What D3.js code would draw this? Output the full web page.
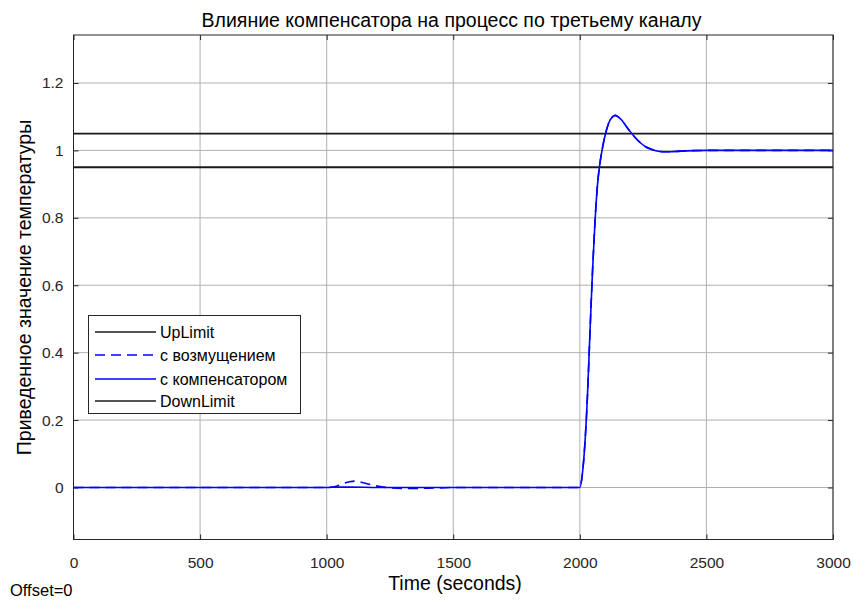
<!DOCTYPE html>
<html>
<head>
<meta charset="utf-8">
<script src="https://cdn.jsdelivr.net/npm/d3@7"></script>
<style>
  html, body { margin: 0; padding: 0; background: #ffffff; }
  svg { display: block; font-family: "Liberation Sans", Arial, Helvetica, sans-serif; }
</style>
</head>
<body>
<svg id="chart" width="853" height="601"></svg>
<script>
// Step response of the third channel, with and without the compensator
const xTicks = [0, 500, 1000, 1500, 2000, 2500, 3000];
const yTicks = [0, 0.2, 0.4, 0.6, 0.8, 1, 1.2];
const yTickLabels = ["0", "0.2", "0.4", "0.6", "0.8", "1", "1.2"];

const upLimit = 1.05;
const downLimit = 0.95;

// "с компенсатором" — response with compensator
const compT = [0, 1000, 1040, 1100, 1200, 2000, 2010, 2020, 2030, 2040, 2050, 2060, 2070, 2080, 2090, 2100,
  2115, 2130, 2140, 2150, 2165, 2180, 2200, 2220, 2240, 2260, 2280, 2300, 2330, 2360, 2400, 2500, 2600, 3000];
const compV = [0, 0, 0.001, 0.001, 0, 0, 0.04, 0.13, 0.27, 0.46, 0.64, 0.79, 0.9, 0.965, 1.01, 1.045,
  1.083, 1.1, 1.104, 1.1, 1.09, 1.075, 1.055, 1.037, 1.022, 1.011, 1.004, 0.999, 0.996, 0.996, 0.998, 1.0, 1.0, 1.0];

// "с возмущением" — response with disturbance, no compensator
const distT = [0, 1000, 1030, 1060, 1090, 1110, 1130, 1160, 1200, 1250, 1300, 1350, 1400, 1450, 1500, 2000,
  2010, 2020, 2030, 2040, 2050, 2060, 2070, 2080, 2090, 2100, 2115, 2130, 2140, 2150, 2165, 2180, 2200,
  2220, 2240, 2260, 2280, 2300, 2330, 2360, 2400, 2500, 2600, 3000];
const distV = [0, 0, 0.002, 0.01, 0.017, 0.019, 0.017, 0.011, 0.004, -0.001, -0.003, -0.003, -0.002, -0.001, 0, 0,
  0.04, 0.13, 0.27, 0.46, 0.64, 0.79, 0.9, 0.965, 1.01, 1.045, 1.083, 1.1, 1.104, 1.1, 1.09, 1.075, 1.055,
  1.037, 1.022, 1.011, 1.004, 0.999, 0.996, 0.996, 0.998, 1.0, 1.0, 1.0];

const legendLabels = ["UpLimit", "с возмущением", "с компенсатором", "DownLimit"];

const svg = d3.select("#chart");
const m = { left: 73.5, right: 833, top: 35, bottom: 539.5 };

const x = d3.scaleLinear().domain([0, 3000]).range([m.left, m.right]);
const y = d3.scaleLinear().domain([-0.1543, 1.3424]).range([m.bottom, m.top]);

const axisColor = "#262626";
const gridColor = "#b0b0b0";
const fontStack = "'Liberation Sans', Arial, sans-serif";

// grid
const grid = svg.append("g");
grid.selectAll("line.gx").data(xTicks).enter().append("line")
  .attr("x1", d => x(d)).attr("x2", d => x(d))
  .attr("y1", m.top).attr("y2", m.bottom)
  .attr("stroke", gridColor).attr("stroke-width", 1);
grid.selectAll("line.gy").data(yTicks).enter().append("line")
  .attr("x1", m.left).attr("x2", m.right)
  .attr("y1", d => y(d)).attr("y2", d => y(d))
  .attr("stroke", gridColor).attr("stroke-width", 1);

// axes with inward ticks on all four sides
const xAxis = d3.axisBottom(x).tickValues(xTicks).tickSize(-5).tickPadding(17).tickFormat(d3.format("d"));
const yAxis = d3.axisLeft(y).tickValues(yTicks).tickSize(-5).tickPadding(10).tickFormat((d, i) => yTickLabels[i]);
const xTop = d3.axisTop(x).tickValues(xTicks).tickSize(-5).tickFormat("");
const yRight = d3.axisRight(y).tickValues(yTicks).tickSize(-5).tickFormat("");

const gx = svg.append("g").attr("transform", `translate(0,${m.bottom})`).call(xAxis);
const gy = svg.append("g").attr("transform", `translate(${m.left},0)`).call(yAxis);
const gxt = svg.append("g").attr("transform", `translate(0,${m.top})`).call(xTop);
const gyr = svg.append("g").attr("transform", `translate(${m.right},0)`).call(yRight);
[gx, gy, gxt, gyr].forEach(g => {
  g.select(".domain").remove();
  g.selectAll(".tick line").attr("stroke", axisColor);
  g.selectAll(".tick text").attr("fill", axisColor).attr("font-size", 15.5)
    .attr("font-family", fontStack);
});

// box
svg.append("rect")
  .attr("x", m.left).attr("y", m.top)
  .attr("width", m.right - m.left).attr("height", m.bottom - m.top)
  .attr("fill", "none").attr("stroke", axisColor).attr("stroke-width", 1);

// series
const plot = svg.append("g");
const line = d3.line().x(d => x(d[0])).y(d => y(d[1])).curve(d3.curveMonotoneX);

plot.append("line")
  .attr("x1", x(0)).attr("x2", x(3000)).attr("y1", y(upLimit)).attr("y2", y(upLimit))
  .attr("stroke", "#1a1a1a").attr("stroke-width", 1.8);

plot.append("path")
  .attr("d", line(d3.zip(distT, distV)))
  .attr("fill", "none").attr("stroke", "#0000ff").attr("stroke-width", 1.6)
  .attr("stroke-dasharray", "10,6");

plot.append("path")
  .attr("d", line(d3.zip(compT, compV)))
  .attr("fill", "none").attr("stroke", "#0000ff").attr("stroke-width", 1.6);

plot.append("line")
  .attr("x1", x(0)).attr("x2", x(3000)).attr("y1", y(downLimit)).attr("y2", y(downLimit))
  .attr("stroke", "#1a1a1a").attr("stroke-width", 1.8);

// title & labels
svg.append("text").attr("x", 451.5).attr("y", 26.5).attr("text-anchor", "middle")
  .attr("font-size", 19.5).attr("fill", "#000")
  .text("Влияние компенсатора на процесс по третьему каналу");

svg.append("text").attr("x", 455).attr("y", 590).attr("text-anchor", "middle")
  .attr("font-size", 19.5).attr("fill", "#000")
  .text("Time (seconds)");

svg.append("text")
  .attr("transform", `translate(31,287.5) rotate(-90)`)
  .attr("text-anchor", "middle").attr("font-size", 19.5).attr("fill", "#000")
  .text("Приведенное значение температуры");

svg.append("text").attr("x", 10).attr("y", 596)
  .attr("font-size", 16.5).attr("fill", "#000").text("Offset=0");

// legend
const lg = svg.append("g");
lg.append("rect").attr("x", 88.5).attr("y", 315.5).attr("width", 212).attr("height", 98)
  .attr("fill", "#fff").attr("stroke", "#262626").attr("stroke-width", 1);
const legStyles = [
  { color: "#1a1a1a", dash: null },
  { color: "#0000ff", dash: "10,6" },
  { color: "#0000ff", dash: null },
  { color: "#1a1a1a", dash: null }
];
const legY = [332, 355, 379, 401];
legendLabels.forEach((lab, i) => {
  lg.append("line").attr("x1", 95).attr("x2", 156).attr("y1", legY[i]).attr("y2", legY[i])
    .attr("stroke", legStyles[i].color).attr("stroke-width", 1.6)
    .attr("stroke-dasharray", legStyles[i].dash);
  lg.append("text").attr("x", 160).attr("y", legY[i] + 5.5)
    .attr("font-size", 16).attr("fill", "#000").text(lab);
});
</script>
</body>
</html>
